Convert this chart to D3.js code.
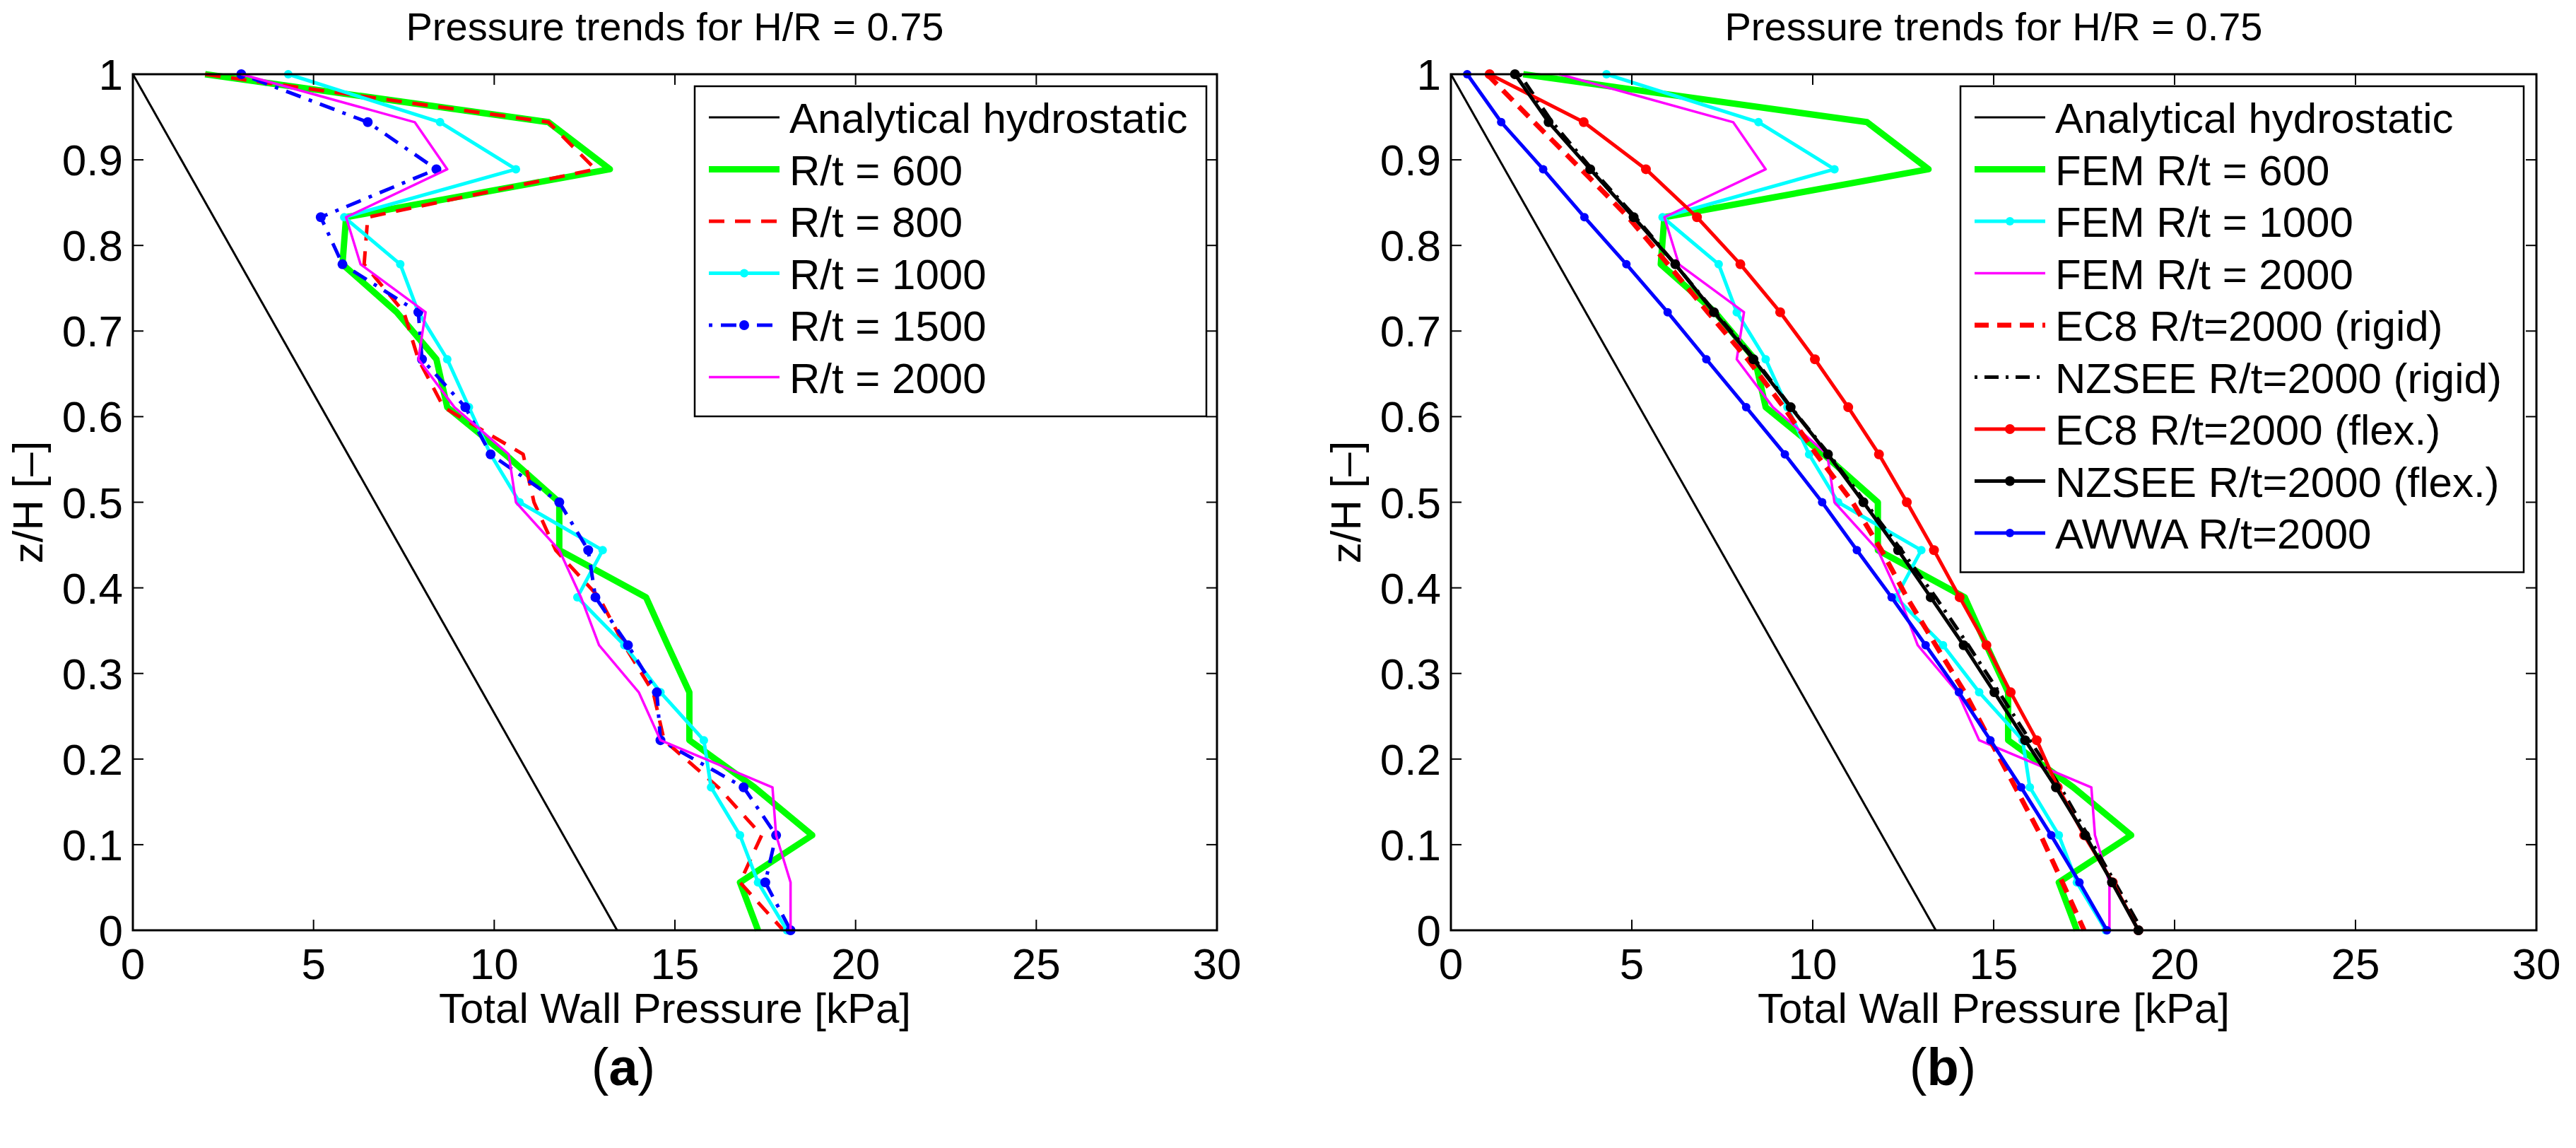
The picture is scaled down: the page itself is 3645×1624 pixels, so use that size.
<!DOCTYPE html>
<html>
<head>
<meta charset="utf-8">
<script src="https://cdn.jsdelivr.net/npm/d3@7"></script>
<style>
  body { margin: 0; background: #fff; }
  text { font-family: "Liberation Sans", Arial, sans-serif; fill: #000; }
</style>
</head>
<body>
<svg id="chart" width="3645" height="1624"></svg>
<script>
// z/H levels shared by every series (top to bottom)
const zLevels = [1, 0.944, 0.889, 0.833, 0.778, 0.722, 0.667, 0.611, 0.556, 0.5,
  0.444, 0.389, 0.333, 0.278, 0.222, 0.167, 0.111, 0.056, 0];

const xTicks = [0, 5, 10, 15, 20, 25, 30];
const yTicks = [0, 0.1, 0.2, 0.3, 0.4, 0.5, 0.6, 0.7, 0.8, 0.9, 1];

// analytical hydrostatic: endpoints
const hydroZ = [1, 0];
const hydroP = [0, 13.4];

// FEM results (kPa)
const fem600 = [2.0, 11.5, 13.2, 5.9, 5.8, 7.3, 8.4, 8.7, 10.3, 11.8, 11.8, 14.2, 14.8, 15.4, 15.4, 17.2, 18.8, 16.8, 17.3];
const fem800 = [2.0, 11.5, 12.8, 6.5, 6.4, 7.5, 7.9, 8.6, 10.8, 11.1, 11.7, 12.9, 13.6, 14.4, 14.7, 16.2, 17.4, 16.8, 18.0];
const fem1000 = [4.3, 8.5, 10.6, 5.85, 7.4, 7.9, 8.7, 9.3, 9.9, 10.7, 13.0, 12.3, 13.6, 14.6, 15.8, 16.0, 16.8, 17.3, 18.1];
const fem1500 = [3.0, 6.5, 8.4, 5.2, 5.8, 7.9, 8.0, 9.2, 9.9, 11.8, 12.6, 12.8, 13.7, 14.5, 14.6, 16.9, 17.8, 17.5, 18.2];
const fem2000 = [3.0, 7.8, 8.7, 5.9, 6.3, 8.1, 7.9, 8.9, 10.4, 10.6, 11.8, 12.4, 12.9, 14.0, 14.6, 17.7, 17.8, 18.2, 18.2];

// code predictions for R/t = 2000
const ec8Rigid = [1.0, 2.3, 3.6, 4.9, 6.0, 7.1, 8.2, 9.2, 10.1, 11.1, 11.9, 12.6, 13.4, 14.2, 14.9, 15.6, 16.3, 16.9, 17.5];
const nzseeRigid = [1.9, 2.8, 3.9, 5.1, 6.2, 7.3, 8.4, 9.4, 10.45, 11.45, 12.45, 13.4, 14.3, 15.15, 16.0, 16.85, 17.6, 18.35, 19.1];
const ec8Flex = [1.07, 3.67, 5.39, 6.8, 8.0, 9.1, 10.06, 10.98, 11.83, 12.6, 13.35, 14.06, 14.8, 15.47, 16.19, 16.77, 17.5, 18.29, 19.0];
const nzseeFlex = [1.77, 2.7, 3.85, 5.05, 6.2, 7.27, 8.36, 9.39, 10.42, 11.4, 12.36, 13.26, 14.17, 15.02, 15.87, 16.72, 17.53, 18.27, 19.0];
const awwa = [0.45, 1.39, 2.55, 3.69, 4.85, 5.99, 7.06, 8.16, 9.23, 10.26, 11.22, 12.18, 13.12, 14.04, 14.91, 15.76, 16.59, 17.37, 18.13];

const svg = d3.select("#chart");

const styles = {
  hydro: { color: "#000", width: 3, dash: null, marker: 0 },
  g600: { color: "#00ff00", width: 9, dash: null, marker: 0 },
  r800: { color: "#ff0000", width: 5, dash: "22,15", marker: 0 },
  c1000: { color: "#00ffff", width: 5, dash: null, marker: 6 },
  b1500: { color: "#0000ff", width: 5, dash: "5,12,22,12", marker: 7 },
  m2000: { color: "#ff00ff", width: 3.5, dash: null, marker: 0 },
  ec8r: { color: "#ff0000", width: 7, dash: "20,12", marker: 0 },
  nzr: { color: "#000", width: 5, dash: "4,10,20,10", marker: 0 },
  ec8f: { color: "#ff0000", width: 5, dash: null, marker: 7 },
  nzf: { color: "#000", width: 5, dash: null, marker: 7 },
  awwa: { color: "#0000ff", width: 5, dash: null, marker: 6 },
};

function drawPanel(p) {
  const x = d3.scaleLinear().domain([0, 30]).range([p.left, p.right]);
  const y = d3.scaleLinear().domain([0, 1]).range([1316, 105]);
  const g = svg.append("g");

  const line = d3.line().x((d) => x(d[0])).y((d) => y(d[1]));

  p.series.forEach((s) => {
    const st = styles[s.style];
    const pts = s.values.map((v, i) => [v, s.z[i]]);
    g.append("path")
      .datum(pts)
      .attr("d", line)
      .attr("fill", "none")
      .attr("stroke", st.color)
      .attr("stroke-width", st.width)
      .attr("stroke-linejoin", "round")
      .attr("stroke-dasharray", st.dash);
    if (st.marker) {
      g.selectAll(null)
        .data(pts)
        .join("circle")
        .attr("cx", (d) => x(d[0]))
        .attr("cy", (d) => y(d[1]))
        .attr("r", st.marker)
        .attr("fill", st.color);
    }
  });

  // frame
  g.append("rect")
    .attr("x", p.left).attr("y", 105)
    .attr("width", p.right - p.left).attr("height", 1316 - 105)
    .attr("fill", "none").attr("stroke", "#000").attr("stroke-width", 3);

  // ticks inward on all sides
  const tk = 15;
  xTicks.forEach((t) => {
    g.append("line").attr("x1", x(t)).attr("x2", x(t)).attr("y1", 1316).attr("y2", 1316 - tk).attr("stroke", "#000").attr("stroke-width", 2);
    g.append("line").attr("x1", x(t)).attr("x2", x(t)).attr("y1", 105).attr("y2", 105 + tk).attr("stroke", "#000").attr("stroke-width", 2);
    g.append("text").attr("x", x(t)).attr("y", 1385).attr("text-anchor", "middle")
      .attr("font-size", 62).text(t);
  });
  yTicks.forEach((t) => {
    g.append("line").attr("x1", p.left).attr("x2", p.left + tk).attr("y1", y(t)).attr("y2", y(t)).attr("stroke", "#000").attr("stroke-width", 2);
    g.append("line").attr("x1", p.right).attr("x2", p.right - tk).attr("y1", y(t)).attr("y2", y(t)).attr("stroke", "#000").attr("stroke-width", 2);
    g.append("text").attr("x", p.left - 14).attr("y", y(t) + 22).attr("text-anchor", "end")
      .attr("font-size", 62).text(t);
  });

  const cx = (p.left + p.right) / 2;
  g.append("text").attr("x", cx).attr("y", 57).attr("text-anchor", "middle")
    .attr("font-size", 56).text("Pressure trends for H/R = 0.75");
  g.append("text").attr("x", cx).attr("y", 1447).attr("text-anchor", "middle")
    .attr("font-size", 60).text("Total Wall Pressure [kPa]");
  g.append("text").attr("transform", `translate(${p.left - 128},${y(0.5)}) rotate(-90)`)
    .attr("text-anchor", "middle").attr("font-size", 60).text("z/H [–]");
  g.append("text").attr("x", p.subX).attr("y", 1535).attr("text-anchor", "middle")
    .attr("font-family", "Liberation Serif, serif").attr("font-size", 74)
    .html(`(<tspan font-weight="bold">${p.sub}</tspan>)`);

  // legend
  const L = p.legend;
  const rowH = 73.5;
  g.append("rect").attr("x", L.x).attr("y", 122)
    .attr("width", L.w).attr("height", 26 + rowH * p.series.length)
    .attr("fill", "#fff").attr("stroke", "#000").attr("stroke-width", 2.5);
  p.series.forEach((s, i) => {
    const st = styles[s.style];
    const ly = 166 + i * rowH;
    g.append("line").attr("x1", L.x + 20).attr("x2", L.x + 120).attr("y1", ly).attr("y2", ly)
      .attr("stroke", st.color).attr("stroke-width", st.width).attr("stroke-dasharray", st.dash);
    if (st.marker) {
      g.append("circle").attr("cx", L.x + 70).attr("cy", ly).attr("r", st.marker).attr("fill", st.color);
    }
    g.append("text").attr("x", L.x + 134).attr("y", ly + 22).attr("font-size", 60).text(s.name);
  });
}

drawPanel({
  left: 188, right: 1722, sub: "a", subX: 882,
  legend: { x: 983, w: 724 },
  series: [
    { name: "Analytical hydrostatic", style: "hydro", values: hydroP, z: hydroZ },
    { name: "R/t = 600", style: "g600", values: fem600, z: zLevels },
    { name: "R/t = 800", style: "r800", values: fem800, z: zLevels },
    { name: "R/t = 1000", style: "c1000", values: fem1000, z: zLevels },
    { name: "R/t = 1500", style: "b1500", values: fem1500, z: zLevels },
    { name: "R/t = 2000", style: "m2000", values: fem2000, z: zLevels },
  ],
});

drawPanel({
  left: 2053, right: 3589, sub: "b", subX: 2749,
  legend: { x: 2774, w: 797 },
  series: [
    { name: "Analytical hydrostatic", style: "hydro", values: hydroP, z: hydroZ },
    { name: "FEM R/t = 600", style: "g600", values: fem600, z: zLevels },
    { name: "FEM R/t = 1000", style: "c1000", values: fem1000, z: zLevels },
    { name: "FEM R/t = 2000", style: "m2000", values: fem2000, z: zLevels },
    { name: "EC8 R/t=2000 (rigid)", style: "ec8r", values: ec8Rigid, z: zLevels },
    { name: "NZSEE R/t=2000 (rigid)", style: "nzr", values: nzseeRigid, z: zLevels },
    { name: "EC8 R/t=2000 (flex.)", style: "ec8f", values: ec8Flex, z: zLevels },
    { name: "NZSEE R/t=2000 (flex.)", style: "nzf", values: nzseeFlex, z: zLevels },
    { name: "AWWA R/t=2000", style: "awwa", values: awwa, z: zLevels },
  ],
});
</script>
</body>
</html>
